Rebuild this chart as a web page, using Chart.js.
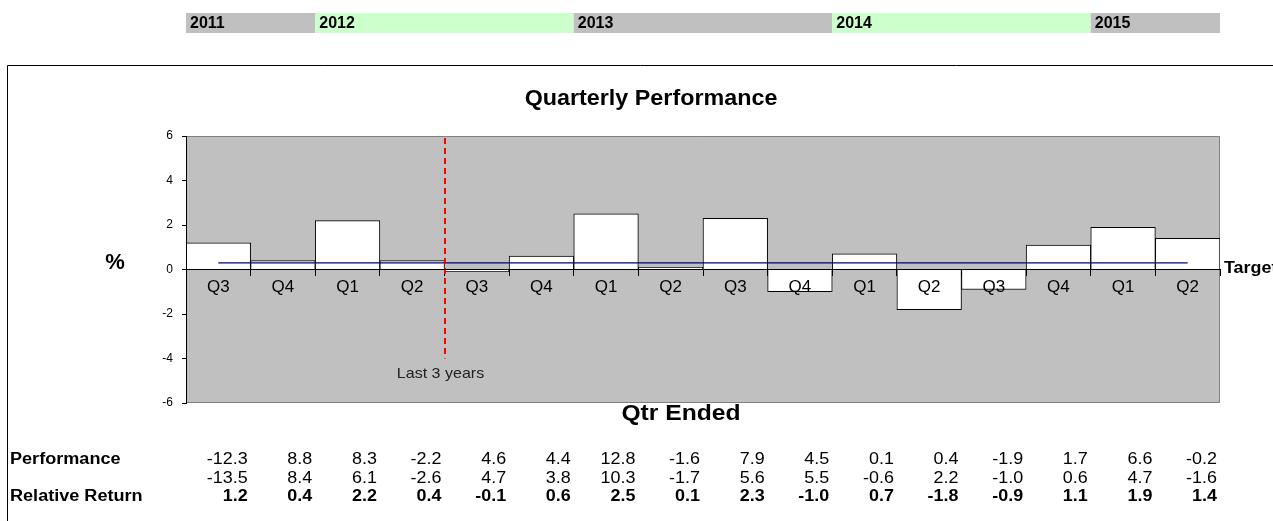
<!DOCTYPE html>
<html>
<head>
<meta charset="utf-8">
<title>Quarterly Performance</title>
<script src="https://cdn.jsdelivr.net/npm/chart.js@4.4.1/dist/chart.umd.min.js"></script>
<style>
  html, body { margin: 0; padding: 0; background: #fff; }
  canvas { display: block; }
</style>
</head>
<body>
<canvas id="myChart" width="1273" height="521"></canvas>
<script>
// quarters shown along the axis, oldest first
const quarters = ['Q3', 'Q4', 'Q1', 'Q2', 'Q3', 'Q4', 'Q1', 'Q2', 'Q3', 'Q4', 'Q1', 'Q2', 'Q3', 'Q4', 'Q1', 'Q2']

// year header: label, how many quarters it spans, band colour
const years = ['2011', '2012', '2013', '2014', '2015']
const yearQuarters = [2, 4, 4, 4, 2]
const yearColors = ['#c0c0c0', '#ccffcc', '#c0c0c0', '#ccffcc', '#c0c0c0']

// table rows under the chart
const performance = [-12.3, 8.8, 8.3, -2.2, 4.6, 4.4, 12.8, -1.6, 7.9, 4.5, 0.1, 0.4, -1.9, 1.7, 6.6, -0.2]
const benchmark = [-13.5, 8.4, 6.1, -2.6, 4.7, 3.8, 10.3, -1.7, 5.6, 5.5, -0.6, 2.2, -1.0, 0.6, 4.7, -1.6]
const relativeReturn = [1.2, 0.4, 2.2, 0.4, -0.1, 0.6, 2.5, 0.1, 2.3, -1.0, 0.7, -1.8, -0.9, 1.1, 1.9, 1.4]

// target line (%)
const target = [0.3, 0.3, 0.3, 0.3, 0.3, 0.3, 0.3, 0.3, 0.3, 0.3, 0.3, 0.3, 0.3, 0.3, 0.3, 0.3]

const yTicks = [-6, -4, -2, 0, 2, 4, 6]

// "Last 3 years" marker goes between these two quarters, down to this value
const lastThreeYears = { after: 3, before: 4, bottom: -4 }

const FONT = '"Liberation Sans", Arial, Helvetica, sans-serif'
Chart.defaults.font.family = FONT
Chart.defaults.color = '#000'

// the source picture has slightly wide lettering, so text can be stretched a bit
function text(ctx, str, x, y, font, align, color, sx) {
  ctx.save()
  ctx.font = font
  ctx.textAlign = align || 'left'
  ctx.textBaseline = 'middle'
  ctx.fillStyle = color || '#000'
  ctx.translate(x, y)
  ctx.scale(sx || 1, 1)
  ctx.fillText(str, 0, 0)
  ctx.restore()
}

/* - extra drawing: header bands, frame, plot background, labels, table - */
const decor = {
  id: 'decor',
  beforeDraw(chart) {
    const { ctx, chartArea: a, scales: { x } } = chart
    const half = (x.getPixelForValue(1) - x.getPixelForValue(0)) / 2
    ctx.save()
    ctx.fillStyle = '#fff'
    ctx.fillRect(0, 0, chart.width, chart.height)

    // year bands
    let idx = 0
    years.forEach((yr, i) => {
      const x0 = x.getPixelForValue(idx) - half
      const x1 = x.getPixelForValue(idx + yearQuarters[i] - 1) + half
      ctx.fillStyle = yearColors[i]
      ctx.fillRect(x0, 13, x1 - x0, 20)
      text(ctx, yr, x0 + 4, 23.5, 'bold 16px ' + FONT)
      idx += yearQuarters[i]
    })

    // outer frame
    ctx.strokeStyle = '#000'
    ctx.lineWidth = 1
    ctx.beginPath()
    ctx.moveTo(7.5, chart.height)
    ctx.lineTo(7.5, 65.5)
    ctx.lineTo(chart.width, 65.5)
    ctx.stroke()

    // grey plot area
    ctx.fillStyle = '#c0c0c0'
    ctx.fillRect(a.left, a.top, a.right - a.left, a.bottom - a.top)
    ctx.strokeStyle = '#808080'
    ctx.beginPath()
    ctx.moveTo(a.left, a.top + 0.5)
    ctx.lineTo(a.right - 0.5, a.top + 0.5)
    ctx.lineTo(a.right - 0.5, a.bottom - 0.5)
    ctx.lineTo(a.left, a.bottom - 0.5)
    ctx.stroke()
    ctx.restore()
  },
  afterDatasetsDraw(chart) {
    const { ctx, chartArea: a, scales: { x, y } } = chart
    const mx = Math.round((x.getPixelForValue(lastThreeYears.after) + x.getPixelForValue(lastThreeYears.before)) / 2)
    ctx.save()
    ctx.strokeStyle = '#ff0000'
    ctx.lineWidth = 2
    ctx.setLineDash([6, 4])
    ctx.beginPath()
    ctx.moveTo(mx, a.top + 2)
    ctx.lineTo(mx, y.getPixelForValue(lastThreeYears.bottom))
    ctx.stroke()
    ctx.restore()
  },
  afterDraw(chart) {
    const { ctx, chartArea: a, scales: { x, y } } = chart
    const half = (x.getPixelForValue(1) - x.getPixelForValue(0)) / 2
    text(ctx, 'Quarterly Performance', 651, 99, 'bold 22px ' + FONT, 'center', '#000', 1.06)
    text(ctx, 'Qtr Ended', 681, 414, 'bold 22px ' + FONT, 'center', '#000', 1.12)
    text(ctx, '%', 115, 263, 'bold 22px ' + FONT, 'center')
    text(ctx, 'Target', a.right + 4, y.getPixelForValue(0) - 1, 'bold 16px ' + FONT, 'left', '#000', 1.12)
    const mx = (x.getPixelForValue(lastThreeYears.after) + x.getPixelForValue(lastThreeYears.before)) / 2
    text(ctx, 'Last 3 years', mx - 4, 374, '15px ' + FONT, 'center', '#222', 1.07)

    // table
    const rows = [
      { label: 'Performance', values: performance, y: 460, bold: false },
      { label: '', values: benchmark, y: 478.5, bold: false },
      { label: 'Relative Return', values: relativeReturn, y: 497, bold: true }
    ]
    rows.forEach(r => {
      if (r.label) text(ctx, r.label, 10, r.y, 'bold 16px ' + FONT, 'left', '#000', 1.13)
      r.values.forEach((v, i) => {
        text(ctx, v.toFixed(1), x.getPixelForValue(i) + half - 3, r.y, (r.bold ? 'bold ' : '') + '16px ' + FONT, 'right', '#000', 1.12)
      })
    })
  }
}

const myChart = new Chart(document.getElementById('myChart'), {
  type: 'bar',
  data: {
    labels: quarters,
    datasets: [
      {
        type: 'line',
        label: 'Target',
        data: target,
        borderColor: '#000080',
        borderWidth: 1.2,
        pointRadius: 0,
        fill: false,
        order: 0
      },
      {
        label: 'Relative Return',
        data: relativeReturn,
        backgroundColor: '#ffffff',
        borderColor: '#000000',
        borderWidth: 1,
        barPercentage: 1,
        categoryPercentage: 1,
        order: 1
      }
    ]
  },
  options: {
    responsive: false,
    animation: false,
    events: [],
    layout: { padding: { top: 136, right: 53, bottom: 118, left: 0 } },
    plugins: {
      legend: { display: false },
      tooltip: { enabled: false }
    },
    scales: {
      x: {
        position: { y: 0 },
        offset: true,
        grid: {
          offset: true,
          drawOnChartArea: false,
          drawTicks: true,
          tickLength: 6,
          color: '#000'
        },
        border: { display: true, color: '#000', z: 1 },
        ticks: {
          z: 1,
          padding: 2,
          color: '#000',
          maxRotation: 0,
          autoSkip: false,
          font: { size: 17 }
        }
      },
      y: {
        min: yTicks[0],
        max: yTicks[yTicks.length - 1],
        afterBuildTicks: s => { s.ticks = yTicks.map(v => ({ value: v })) },
        afterFit: s => { s.width = 186 },
        grid: {
          drawOnChartArea: false,
          drawTicks: true,
          tickLength: 4,
          color: '#000'
        },
        border: { display: true, color: '#000', z: 1 },
        ticks: {
          padding: 9,
          color: '#000',
          font: { size: 12 }
        }
      }
    }
  },
  plugins: [decor]
})
</script>
</body>
</html>
